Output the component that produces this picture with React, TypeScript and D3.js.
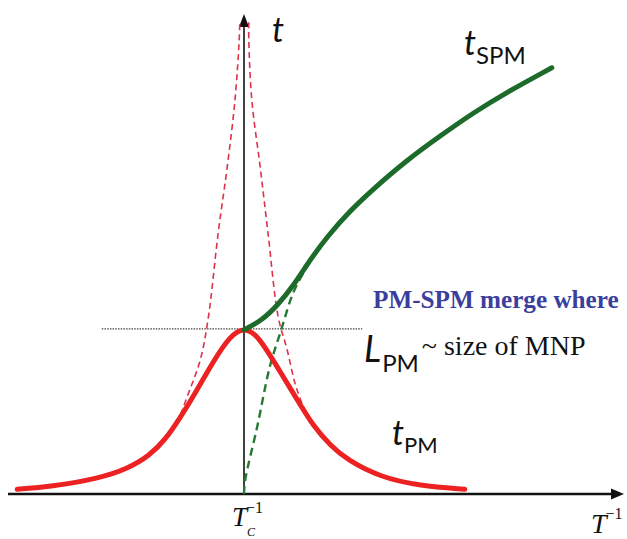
import * as d3 from 'd3';

// curve points: [T^-1 relative to Tc^-1, t]
const tPM: [number, number][] = [
  [-3.78, 0.1], [-3.23, 0.15], [-2.4, 0.33], [-1.95, 0.52], [-1.57, 0.8],
  [-1.3, 1.15], [-1.07, 1.58], [-0.85, 2.02], [-0.52, 2.75], [-0.23, 3.3],
  [0, 3.47], [0.23, 3.32], [0.6, 2.55], [0.88, 1.98], [1.15, 1.42],
  [1.45, 1.0], [1.72, 0.71], [2.27, 0.35], [2.93, 0.17], [3.68, 0.1],
];
const tPMDashLeft: [number, number][] = [
  [-1.32, 1.13], [-1.1, 1.54], [-0.95, 2.02], [-0.73, 2.79], [-0.6, 3.63],
  [-0.43, 5.44], [-0.28, 6.81], [-0.15, 8.21], [-0.08, 9.46], [-0.07, 9.83],
];
const tPMDashRight: [number, number][] = [
  [0.08, 9.83], [0.08, 9.46], [0.13, 8.21], [0.27, 6.81], [0.4, 5.44],
  [0.57, 3.69], [0.72, 3.0], [0.85, 2.31], [0.98, 1.85], [1.18, 1.38],
];
const tSPM: [number, number][] = [
  [0, 3.42], [0.3, 3.62], [0.55, 3.92], [0.82, 4.33], [1.1, 4.88],
  [1.4, 5.38], [1.75, 5.88], [2.15, 6.35], [2.72, 6.96], [3.27, 7.46],
  [3.82, 7.94], [4.38, 8.37], [5.13, 8.88],
];
const tSPMDash: [number, number][] = [
  [0, 0], [0.02, 0.29], [0.22, 1.4], [0.43, 2.65], [0.62, 3.42],
  [0.82, 4.19], [1.05, 4.73], [1.22, 5.04],
];
const mergeLevel = 3.42;
const mergeSpan = [-2.37, 1.97];

const W = 627;
const H = 539;

export default function App() {
  const x = d3.scaleLinear().domain([-4, 6.3]).range([4, 622]);
  const y = d3.scaleLinear().domain([0, 10]).range([494, 14]);

  const smooth = d3
    .line<[number, number]>()
    .x(d => x(d[0]))
    .y(d => y(d[1]))
    .curve(d3.curveBasis);
  const thru = d3
    .line<[number, number]>()
    .x(d => x(d[0]))
    .y(d => y(d[1]))
    .curve(d3.curveCatmullRom.alpha(0.5));

  const x0 = x(0);
  const yBase = y(0);
  const xEnd = 624;
  const yTop = 14;

  const sans = "Lato, 'Open Sans', sans-serif";
  const serif = "'Liberation Serif', 'DejaVu Serif', serif";

  return (
    <svg
      width={W}
      height={H}
      style={{ position: 'absolute', left: 0, top: 0, background: '#fff' }}
    >
      {/* axes */}
      <line x1={8} y1={yBase} x2={xEnd - 10} y2={yBase} stroke="#111" strokeWidth={2.5} />
      <path
        d={`M${xEnd},${yBase} L${xEnd - 13},${yBase - 5.5} L${xEnd - 13},${yBase + 5.5} Z`}
        fill="#111"
      />
      <line x1={x0} y1={yBase} x2={x0} y2={yTop + 10} stroke="#111" strokeWidth={1.6} />
      <path
        d={`M${x0},${yTop} L${x0 - 5},${yTop + 13} L${x0 + 5},${yTop + 13} Z`}
        fill="#111"
      />

      {/* dotted merge level */}
      <line
        x1={x(mergeSpan[0])}
        x2={x(mergeSpan[1])}
        y1={y(mergeLevel) - 1}
        y2={y(mergeLevel) - 1}
        stroke="#444"
        strokeWidth={1.4}
        strokeDasharray="1.5,1.2"
      />

      {/* curves */}
      <path d={thru(tPMDashLeft) ?? ''} fill="none" stroke="#e0304a" strokeWidth={1.6} strokeDasharray="6,4" />
      <path d={thru(tPMDashRight) ?? ''} fill="none" stroke="#e0304a" strokeWidth={1.6} strokeDasharray="6,4" />
      <path d={thru(tSPMDash) ?? ''} fill="none" stroke="#237a32" strokeWidth={2.4} strokeDasharray="8,5" />
      <path d={smooth(tPM) ?? ''} fill="none" stroke="#ec2222" strokeWidth={5} strokeLinecap="round" />
      <path d={smooth(tSPM) ?? ''} fill="none" stroke="#1d6b2b" strokeWidth={5} strokeLinecap="round" />

      {/* labels */}
      <text x={272} y={42} fontFamily={sans} fontStyle="italic" fontSize={34} fill="#111">
        t
      </text>
      <text x={464} y={55} fontFamily={sans} fill="#111">
        <tspan fontStyle="italic" fontSize={34}>t</tspan>
        <tspan fontSize={24} dy={9}>SPM</tspan>
      </text>
      <text x={392} y={445} fontFamily={sans} fill="#111">
        <tspan fontStyle="italic" fontSize={34}>t</tspan>
        <tspan fontSize={22} dy={8}>PM</tspan>
      </text>
      <text x={373} y={308} fontFamily={serif} fontWeight="bold" fontSize={25.2} fill="#3a3f9e">
        PM-SPM merge where
      </text>
      <text x={364} y={362} fill="#111">
        <tspan fontFamily={sans} fontStyle="italic" fontSize={36}>L</tspan>
        <tspan fontFamily={sans} fontSize={24} dy={10} dx={1}>PM</tspan>
        <tspan fontFamily={serif} fontSize={28} dy={-17} dx={3}>~ size of MNP</tspan>
      </text>

      <text x={232} y={526} fontFamily={serif} fill="#111">
        <tspan fontStyle="italic" fontSize={27}>T</tspan>
        <tspan fontSize={16} dy={-13} dx={-1}>−1</tspan>
      </text>
      <text x={247} y={536} fontFamily={serif} fontStyle="italic" fontSize={12} fill="#111">
        C
      </text>
      <text x={591} y={533} fontFamily={serif} fill="#111">
        <tspan fontStyle="italic" fontSize={28}>T</tspan>
        <tspan fontSize={16} dy={-14} dx={-1}>−1</tspan>
      </text>
    </svg>
  );
}
